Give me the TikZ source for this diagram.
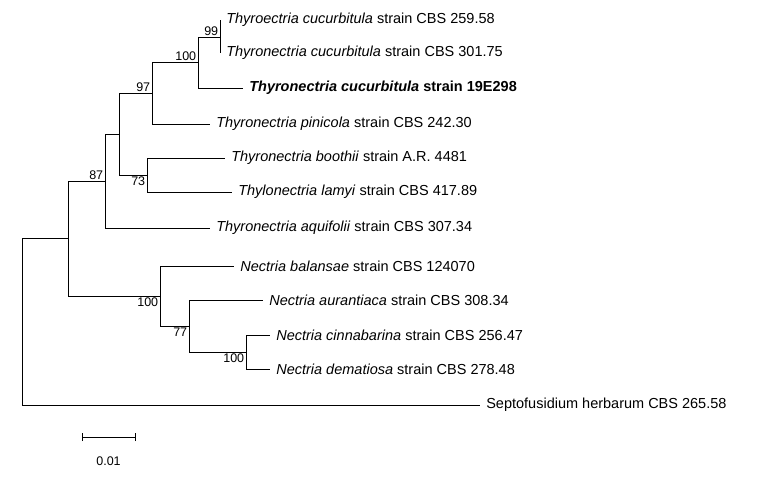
\documentclass[tikz,border=0pt]{standalone}
\usepackage{fontspec}
\setmainfont{Liberation Sans}
\usetikzlibrary{positioning, calc}

\begin{document}
\begin{tikzpicture}[x=1pt, y=-1pt, semithick, font=\fontsize{14.5}{16}\selectfont]
\tikzstyle{taxon}=[anchor=west, inner sep=0pt, xshift=6pt]
\tikzstyle{boot}=[inner sep=1.5pt, font=\fontsize{12.5}{14}\selectfont]
\useasboundingbox (0,0) rectangle (773,480);

% tips
\coordinate (t1) at (220,20);
\coordinate (t2) at (220,53);
\coordinate (t3) at (243,88);
\coordinate (t4) at (210,124);
\coordinate (t5) at (225,158);
\coordinate (t6) at (232,192);
\coordinate (t7) at (210,228);
\coordinate (t8) at (234,266);
\coordinate (t9) at (263,300);
\coordinate (t10) at (270,335);
\coordinate (t11) at (270,369);
\coordinate (t12) at (480,405);

% internal nodes
\coordinate (n12) at (220,37);
\coordinate (n123) at (198,62);
\coordinate (n1234) at (152,93);
\coordinate (n56) at (147,175);
\coordinate (nA) at (119,134);
\coordinate (nB) at (105,181);
\coordinate (n1011) at (246,352);
\coordinate (n9) at (189,326);
\coordinate (n8) at (160,296);
\coordinate (nN) at (68,238);
\coordinate (root) at (22,322);

\node[taxon] (a1) at (t1) {\textit{Thyroectria cucurbitula} strain CBS 259.58};
\node[taxon] (a2) at (t2) {\textit{Thyronectria cucurbitula} strain CBS 301.75};
\node[taxon] (a3) at (t3) {\textbf{\textit{Thyronectria cucurbitula} strain 19E298}};
\node[taxon] (a4) at (t4) {\textit{Thyronectria pinicola} strain CBS 242.30};
\node[taxon] (a5) at (t5) {\textit{Thyronectria boothii} strain A.R. 4481};
\node[taxon] (a6) at (t6) {\textit{Thylonectria lamyi} strain CBS 417.89};
\node[taxon] (a7) at (t7) {\textit{Thyronectria aquifolii} strain CBS 307.34};
\node[taxon] (a8) at (t8) {\textit{Nectria balansae} strain CBS 124070};
\node[taxon] (a9) at (t9) {\textit{Nectria aurantiaca} strain CBS 308.34};
\node[taxon] (a10) at (t10) {\textit{Nectria cinnabarina} strain CBS 256.47};
\node[taxon] (a11) at (t11) {\textit{Nectria dematiosa} strain CBS 278.48};
\node[taxon] (a12) at (t12) {Septofusidium herbarum CBS 265.58};

% branches
\draw (t1) -- (t2);
\draw (n123) |- (n12);
\draw (n123) |- (t3);
\draw (n1234) |- (n123);
\draw (n1234) |- (t4);
\draw (n56) |- (t5);
\draw (n56) |- (t6);
\draw (nA) |- (n1234);
\draw (nA) |- (n56);
\draw (nB) |- (nA);
\draw (nB) |- (t7);
\draw (n1011) |- (t10);
\draw (n1011) |- (t11);
\draw (n9) |- (t9);
\draw (n9) |- (n1011);
\draw (n8) |- (t8);
\draw (n8) |- (n9);
\draw (nN) |- (nB);
\draw (nN) |- (n8);
\draw (root) |- (nN);
\draw (root) |- (t12);

% bootstrap
\node[boot, above left=0pt of n12] {99};
\node[boot, above left=0pt of n123] {100};
\node[boot, above left=0pt of n1234] {97};
\node[boot, below left=0pt of n56] {73};
\node[boot, above left=0pt of nB] {87};
\node[boot, below left=0pt of n8] {100};
\node[boot, below left=0pt of n9] {77};
\node[boot, below left=0pt of n1011] {100};

% scale bar
\coordinate (s1) at (82,437);
\coordinate (s2) at (135,437);
\draw (s1) -- (s2);
\draw ([yshift=-4pt]s1) -- ([yshift=4pt]s1);
\draw ([yshift=-4pt]s2) -- ([yshift=4pt]s2);
\node[boot, below=18pt of $(s1)!0.5!(s2)$] {0.01};
\end{tikzpicture}
\end{document}
